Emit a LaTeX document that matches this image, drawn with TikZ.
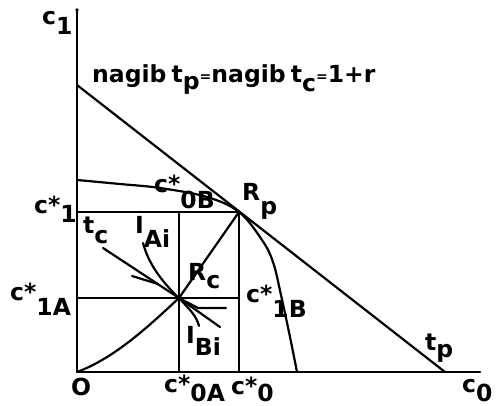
\documentclass[tikz,border=0pt]{standalone}
\usepackage{fontspec}
\setmainfont{DejaVu Sans}
\newcommand{\lbsub}[3]{#1\raisebox{-#3pt}{#2}}
\newcommand{\smeq}{{\fontsize{14}{14}\selectfont\raisebox{1pt}{=}}}
\begin{document}
\begin{tikzpicture}[x=1pt,y=-1pt,
  ln/.style={line width=2.2pt,line join=round,line cap=round},
  thin/.style={line width=1.8pt},
  lab/.style={anchor=base west,inner sep=0pt,font=\bfseries\fontsize{23.5}{23.5}\selectfont}]
\useasboundingbox (0,0) rectangle (497,406);
% coordinates
\coordinate (O) at (77,372);
\coordinate (Ytop) at (77,10);
\coordinate (Xend) at (480,372);
\coordinate (Btop) at (77,85);
\coordinate (Bend) at (445,372);
\coordinate (Rp) at (239,212);
\coordinate (Rc) at (179,298);
\coordinate (C1L) at (77,212);
\coordinate (C1AL) at (77,298);
\coordinate (C1AR) at (239,298);
\coordinate (C0) at (239,372);
\coordinate (C0At) at (179,212);
\coordinate (C0A) at (179,372);
\coordinate (Ftop) at (77,180);
\coordinate (Fbot) at (297,372);
\coordinate (TcA) at (103,248);
\coordinate (TcB) at (220,327);
\coordinate (IAt) at (143,243);
\coordinate (IBb) at (199,326);
% axes
\draw[ln] (Ytop) -- (O) -- (Xend);
\fill (Ytop) circle (1.8pt);
% budget line t_p
\draw[ln] (Btop) -- (Bend);
% frontier
\draw[ln] plot[smooth,tension=0.6] coordinates {(Ftop) (120,184) (160,188) (207,197) (Rp) (262,240) (273,262) (281,295) (290,337) (Fbot)};
% guide lines
\draw[thin] (C1L) -- (Rp) -- (C0);
\draw[thin] (C1AL) -- (C1AR);
\draw[thin] (C0At) -- (C0A);
% expansion path
\draw[ln] (O) .. controls (115,358) and (150,325) .. (Rc) -- (Rp);
% t_c
\draw[ln] (TcA) -- (Rc) -- (TcB);
% indifference curves
\draw[ln] (IAt) .. controls (148,262) and (160,280) .. (Rc);
\draw[ln] (132,276) -- (158,284);
\draw[ln] (Rc) .. controls (190,310) and (196,315) .. (IBb);
\draw[ln] (Rc) -- (198,308) -- (226,308);
% labels
\node[lab] (lc1) at (42,25) {\lbsub{c}{1}{10}};
\node[lab] (lnag) at (92,83) {nagib\hspace{-3pt} t\lbsub{}{p}{7}\smeq nagib\hspace{-3pt} t\lbsub{}{c}{9}\smeq 1+r};
\node[lab] (lc0B) at (154,192) {\lbsub{c*}{0B}{16}};
\node[lab] (lRp) at (242,200) {\lbsub{R}{p}{14}};
\node[lab] (lc1s) at (34,213) {\lbsub{c*}{1}{9}};
\node[lab] (ltc) at (83,233) {\lbsub{t}{c}{10}};
\node[lab] (lIA) at (135,233) {\lbsub{I}{Ai}{14}};
\node[lab] (lRc) at (188,280) {\lbsub{R}{c}{8}};
\node[lab] (lc1A) at (10,300) {\lbsub{c*}{1A}{15}};
\node[lab] (lc1B) at (246,302) {\lbsub{c*}{1B}{15}};
\node[lab] (lIB) at (186,343) {\lbsub{I}{Bi}{12}};
\node[lab] (ltp) at (425,350) {\lbsub{t}{p}{7}};
\node[lab] (lc0) at (462,392) {\lbsub{c}{0}{9}};
\node[lab] (lO) at (71,395) {O};
\node[lab] (lc0A) at (164,392) {\lbsub{c*}{0A}{9}};
\node[lab] (lc0s) at (231,394) {\lbsub{c*}{0}{7}};
\end{tikzpicture}
\end{document}
